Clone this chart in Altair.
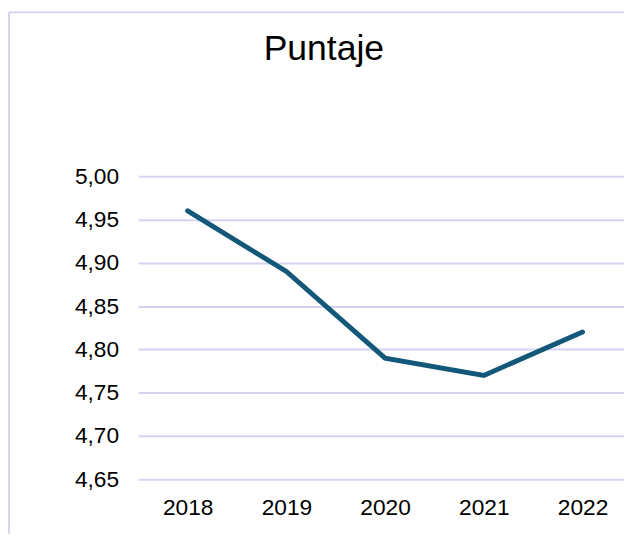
import altair as alt
import pandas as pd

years = [2018, 2019, 2020, 2021, 2022]
scores = [4.96, 4.89, 4.79, 4.77, 4.82]
y_ticks = [4.65, 4.70, 4.75, 4.80, 4.85, 4.90, 4.95, 5.00]

df = pd.DataFrame({"Año": years, "Puntaje": scores})

FONT = "Liberation Sans"
GRID = "#d4d4f2"
LINE = "#135878"
FRAME = "#d6d6f4"

line = alt.Chart(df).mark_line(color=LINE, strokeWidth=5, strokeCap="round", strokeJoin="miter").encode(
    x=alt.X("Año:Q",
            scale=alt.Scale(domain=[2017.5, 2022.42], nice=False, zero=False),
            axis=alt.Axis(values=years, format="d", title=None, grid=False, domain=False,
                          ticks=False, labelPadding=18, labelFontSize=23, labelFont=FONT,
                          labelColor="#000000")),
    y=alt.Y("Puntaje:Q",
            scale=alt.Scale(domain=[4.65, 5.0], nice=False, zero=False),
            axis=alt.Axis(values=y_ticks, title=None, domain=False, ticks=False,
                          labelPadding=20, labelFontSize=23, labelFont=FONT,
                          labelColor="#000000", gridColor=GRID, gridWidth=2,
                          labelExpr="replace(format(datum.value, '.2f'), '.', ',')")),
)

frame_data = alt.Data(values=[{}])
left_edge = alt.Chart(frame_data).mark_rule(color=FRAME, strokeWidth=2).encode(
    x=alt.value(-131), y=alt.value(-166), y2=alt.value(372),
)
top_edge = alt.Chart(frame_data).mark_rule(color=FRAME, strokeWidth=2).encode(
    x=alt.value(-131), x2=alt.value(492), y=alt.value(-166),
)

chart = alt.layer(left_edge, top_edge, line).properties(
    width=492, height=307,
    autosize=alt.AutoSizeParams(type="none"),
    padding={"left": 132, "top": 167, "right": 0, "bottom": 52},
    title=alt.TitleParams("Puntaje", fontSize=36, font=FONT, fontWeight="normal",
                          color="#000000", anchor="middle", frame="group", dx=-58,
                          baseline="alphabetic", offset=-85),
).configure_view(stroke=None)

chart.save("out.html", embed_options={"renderer": "svg", "actions": False})
